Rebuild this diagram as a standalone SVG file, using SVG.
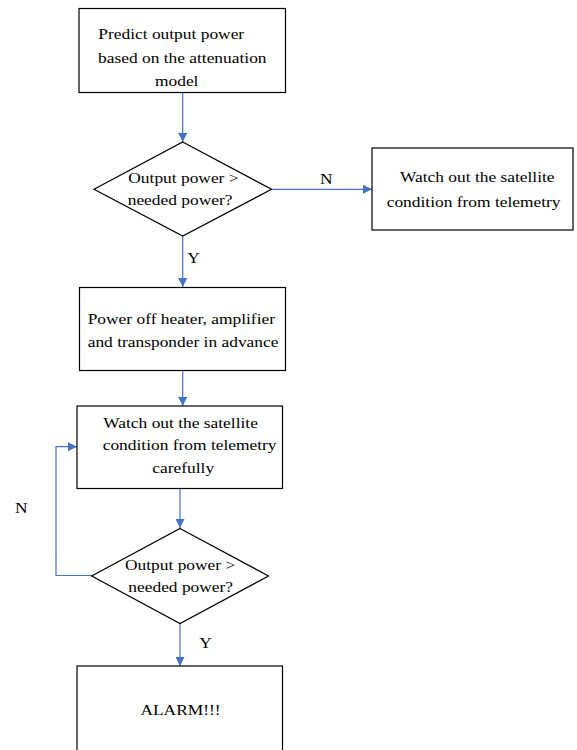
<svg xmlns="http://www.w3.org/2000/svg" width="577" height="750" viewBox="0 0 577 750">
<defs>
<style>
.box{fill:#fff;stroke:#000;stroke-width:1.2}
.t{font-family:"Liberation Serif","Times New Roman",serif;font-size:15px;fill:#000}
.c{text-anchor:middle}
.con{fill:none;stroke:#4472C4;stroke-width:1.2}
</style>
<marker id="ah" viewBox="0 0 10 10" refX="10" refY="5" markerWidth="9" markerHeight="9" markerUnits="userSpaceOnUse" orient="auto">
<path d="M0,0 L10,5 L0,10 z" fill="#4472C4"/>
</marker>
</defs>
<rect width="577" height="750" fill="#fff"/>
<g id="connectors">
<line class="con" x1="182.7" y1="92" x2="182.7" y2="142" marker-end="url(#ah)"/>
<line class="con" x1="272" y1="189.3" x2="372" y2="189.3" marker-end="url(#ah)"/>
<line class="con" x1="182.7" y1="236" x2="182.7" y2="287" marker-end="url(#ah)"/>
<line class="con" x1="182.7" y1="371" x2="182.7" y2="406" marker-end="url(#ah)"/>
<line class="con" x1="180" y1="488" x2="180" y2="528" marker-end="url(#ah)"/>
<polyline class="con" points="92,575.5 56,575.5 56,446.7 77,446.7" marker-end="url(#ah)"/>
<line class="con" x1="180" y1="623" x2="180" y2="666" marker-end="url(#ah)"/>
<text class="t" transform="translate(320,184) scale(1.16,1)">N</text>
<text class="t" transform="translate(187.3,262.7) scale(1.16,1)">Y</text>
<text class="t" transform="translate(15,513) scale(1.16,1)">N</text>
<text class="t" transform="translate(199.3,648) scale(1.16,1)">Y</text>
</g>
<g id="predict">
<rect class="box" x="79" y="8.5" width="206.5" height="84"/>
<text class="t" transform="translate(98.3,38.5) scale(1.16,1)">Predict output power</text>
<text class="t" transform="translate(98,62.5) scale(1.16,1)">based on the attenuation</text>
<text class="t c" transform="translate(176.7,86) scale(1.16,1)">model</text>
</g>
<g id="decision1">
<polygon class="box" points="182.7,142 271.5,189.3 182.7,236 94,189.3"/>
<text class="t" transform="translate(128.3,182.5) scale(1.16,1)">Output power &gt;</text>
<text class="t" transform="translate(127.7,205) scale(1.16,1)">needed power?</text>
</g>
<g id="watch1">
<rect class="box" x="372" y="148" width="201" height="82"/>
<text class="t" transform="translate(400,181.5) scale(1.16,1)">Watch out the satellite</text>
<text class="t" transform="translate(386.7,206.5) scale(1.16,1)">condition from telemetry</text>
</g>
<g id="poweroff">
<rect class="box" x="79.5" y="287.5" width="206" height="83"/>
<text class="t" transform="translate(87.7,324) scale(1.16,1)">Power off heater, amplifier</text>
<text class="t" transform="translate(87.7,347) scale(1.16,1)">and transponder in advance</text>
</g>
<g id="watch2">
<rect class="box" x="77" y="406" width="205.5" height="82.5"/>
<text class="t" transform="translate(103.3,427.5) scale(1.16,1)">Watch out the satellite</text>
<text class="t" transform="translate(102.7,450) scale(1.16,1)">condition from telemetry</text>
<text class="t" transform="translate(152.3,473) scale(1.16,1)">carefully</text>
</g>
<g id="decision2">
<polygon class="box" points="180,528.5 268.5,576 180,623.5 91.7,576"/>
<text class="t" transform="translate(125,569.5) scale(1.16,1)">Output power &gt;</text>
<text class="t" transform="translate(128.3,592) scale(1.16,1)">needed power?</text>
</g>
<g id="alarm">
<rect class="box" x="77" y="666" width="205.5" height="100"/>
<text class="t c" transform="translate(180.5,715) scale(1.16,1)">ALARM!!!</text>
</g>
</svg>
